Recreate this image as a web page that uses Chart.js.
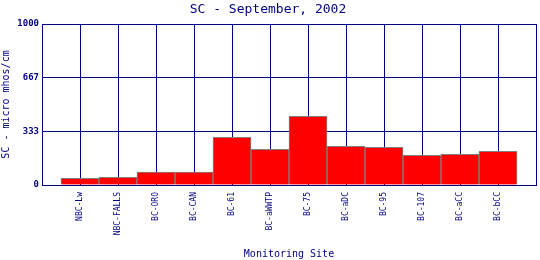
<!DOCTYPE html>
<html>
<head>
<meta charset="utf-8">
<script src="https://cdn.jsdelivr.net/npm/chart.js@4/dist/chart.umd.min.js"></script>
<style>
  body { margin: 0; background: #fff; }
  canvas { display: block; }
</style>
</head>
<body>
<canvas id="myChart" width="540" height="260"></canvas>
<script>
// data
const sites = ['NBC-Lw', 'NBC-FALLS', 'BC-ORO', 'BC-CAN', 'BC-61', 'BC-aWWTP',
               'BC-75', 'BC-aDC', 'BC-95', 'BC-107', 'BC-aCC', 'BC-bCC'];
const scValues = [42, 48, 81, 81, 296, 222, 426, 240, 234, 184, 191, 209];
const yTicks = [0, 333, 667, 1000];

const navy = '#000080';
const mono = 'DejaVu Sans Mono';

function makePoints(labels, values) {
    return labels.map((name, idx) => {
        return { x: idx, y: values[idx] };
    });
}

function initChart(target) {
    const chart = new Chart(target, {
        type: 'bar',
        data: {
            datasets: [{
                data: makePoints(sites, scValues),
                backgroundColor: '#ff0000',
                borderColor: '#808080',
                borderWidth: 1,
                barPercentage: 1,
                categoryPercentage: 1
            }]
        },
        options: {
            responsive: false,
            animation: false,
            layout: { padding: { left: 0, right: 4, top: 0, bottom: 0 } },
            plugins: {
                legend: { display: false },
                tooltip: { enabled: false },
                title: {
                    display: true,
                    text: 'SC - September, 2002',
                    color: navy,
                    font: { family: mono, size: 13, weight: 'normal' },
                    padding: { top: 2, bottom: 6.4 }
                }
            },
            scales: {
                x: {
                    type: 'linear',
                    min: -1,
                    max: 12,
                    offset: false,
                    afterFit: (axis) => {
                        axis.height = 75;
                        axis.paddingLeft = 0;
                        axis.paddingRight = 0;
                    },
                    afterBuildTicks: (axis) => {
                        const t = [];
                        for (let i = -1; i <= 12; i++) t.push({ value: i });
                        axis.ticks = t;
                    },
                    ticks: {
                        autoSkip: false,
                        maxRotation: 90,
                        minRotation: 90,
                        padding: 7,
                        color: navy,
                        font: { family: mono, size: 8 },
                        callback: (v) => sites[v] || ''
                    },
                    grid: { color: navy, drawTicks: false, lineWidth: 1, offset: false },
                    border: { color: navy },
                    title: {
                        display: true,
                        text: 'Monitoring Site',
                        color: navy,
                        font: { family: mono, size: 10 },
                        padding: { top: 0, bottom: 0 }
                    }
                },
                y: {
                    min: 0,
                    max: 1000,
                    afterFit: (axis) => { axis.width = 42; },
                    afterBuildTicks: (axis) => {
                        axis.ticks = yTicks.map(v => ({ value: v }));
                    },
                    ticks: {
                        padding: 3,
                        color: navy,
                        font: { family: mono, size: 9, weight: 'bold' },
                        callback: (v) => String(v)
                    },
                    grid: { color: navy, drawTicks: false, lineWidth: 1 },
                    border: { color: navy },
                    title: {
                        display: true,
                        text: 'SC - micro mhos/cm',
                        color: navy,
                        font: { family: mono, size: 10 },
                        padding: { top: 0, bottom: 2 }
                    }
                }
            }
        }
    });
    return chart;
}

document.addEventListener('DOMContentLoaded', () => {
    initChart(document.querySelector('#myChart'));
});
</script>
</body>
</html>
